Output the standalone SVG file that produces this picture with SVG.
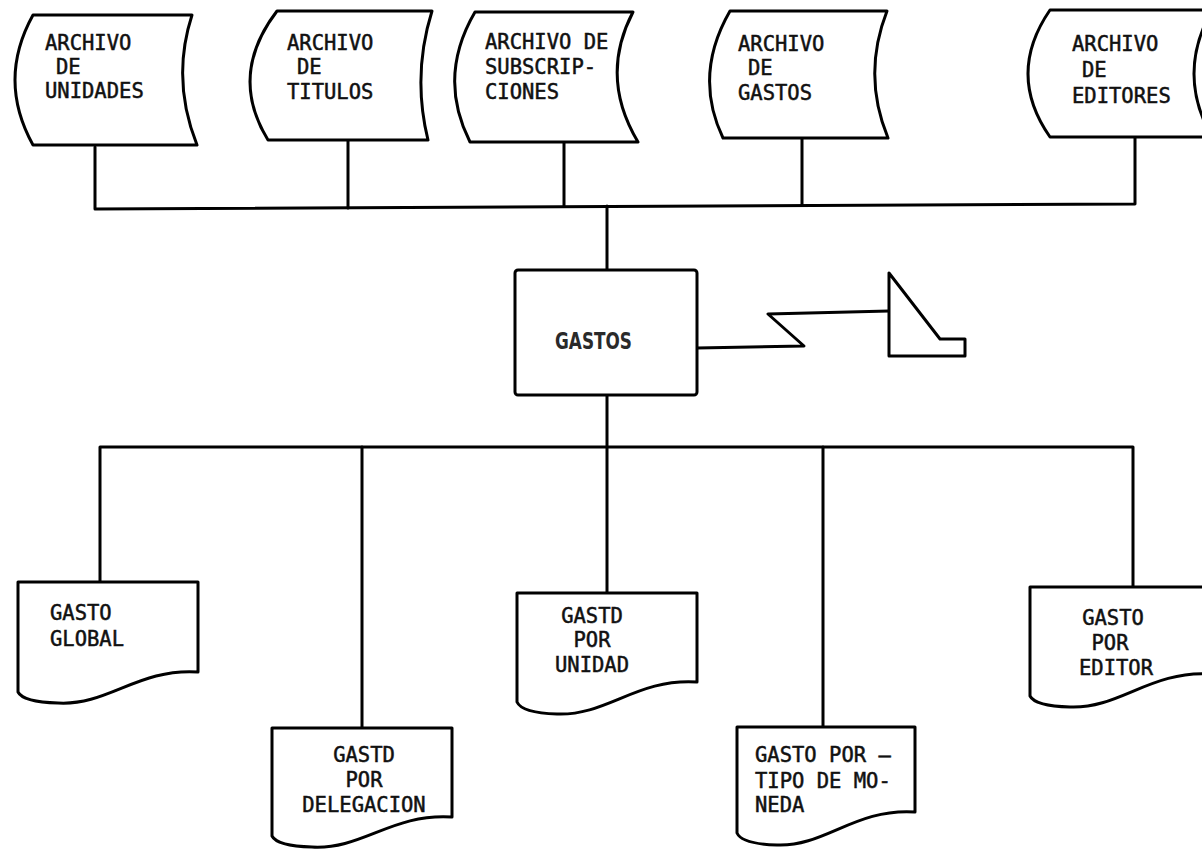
<svg xmlns="http://www.w3.org/2000/svg" width="1202" height="849" viewBox="0 0 1202 849">
<style>
.shape{fill:#fff;stroke:#000;stroke-width:3;stroke-linejoin:round}
.ln{fill:none;stroke:#000;stroke-width:3;stroke-linejoin:round;stroke-linecap:round}
.t{font-family:"DejaVu Sans Mono","Liberation Mono",monospace;font-size:20.5px;fill:#111;stroke:#111;stroke-width:0.5}
.tc{text-anchor:middle}
.tb{font-family:"DejaVu Sans","Liberation Sans",sans-serif;font-size:23px;font-weight:bold;fill:#2a2a2a}
</style>
<rect width="1202" height="849" fill="#fff"/>
<g id="connectors">
<polyline class="ln" points="95,147 95,209 1135,204 1135,137"/>
<line class="ln" x1="348" y1="140" x2="348" y2="208"/>
<line class="ln" x1="564" y1="142" x2="564" y2="206"/>
<line class="ln" x1="802" y1="138" x2="802" y2="205"/>
<line class="ln" x1="607" y1="206" x2="607" y2="270"/>
<line class="ln" x1="607" y1="395" x2="607" y2="593"/>
<polyline class="ln" points="100,582 100,447 1133,447 1133,587"/>
<line class="ln" x1="362" y1="447" x2="362" y2="728"/>
<line class="ln" x1="823" y1="447" x2="823" y2="727"/>
<polyline class="ln" points="697,348 804,346 768,314 889,311"/>
</g>
<g id="archivo-unidades">
<path class="shape" d="M33,15 L192,15 Q171,80 197,145 L33,145 Q-3,80 33,15 Z"/>
<text class="t" x="45" y="50">ARCHIVO</text>
<text class="t" x="56" y="74">DE</text>
<text class="t" x="45" y="98">UNIDADES</text>
</g>
<g id="archivo-titulos">
<path class="shape" d="M277,11 L432,11 Q412,75 428,140 L268,140 Q228,75 277,11 Z"/>
<text class="t" x="287" y="50">ARCHIVO</text>
<text class="t" x="297" y="74">DE</text>
<text class="t" x="287" y="99">TITULOS</text>
</g>
<g id="archivo-subscripciones">
<path class="shape" d="M475,12 L633,12 Q599,77 638,142 L470,142 Q437,77 475,12 Z"/>
<text class="t" x="485" y="49">ARCHIVO DE</text>
<text class="t" x="485" y="74">SUBSCRIP-</text>
<text class="t" x="485" y="99">CIONES</text>
</g>
<g id="archivo-gastos">
<path class="shape" d="M730,11 L887,11 Q862,75 888,138 L723,138 Q693,75 730,11 Z"/>
<text class="t" x="738" y="51">ARCHIVO</text>
<text class="t" x="748" y="75">DE</text>
<text class="t" x="738" y="100">GASTOS</text>
</g>
<g id="archivo-editores">
<path class="shape" d="M1050,10 L1212,10 Q1176,74 1212,137 L1050,137 Q1006,74 1050,10 Z"/>
<text class="t" x="1072" y="51">ARCHIVO</text>
<text class="t" x="1082" y="77">DE</text>
<text class="t" x="1072" y="103">EDITORES</text>
</g>
<g id="gastos">
<rect class="shape" x="515" y="270" width="182" height="125" rx="3"/>
<text class="tb" x="555" y="349" textLength="77" lengthAdjust="spacingAndGlyphs">GASTOS</text>
</g>
<g id="terminal">
<path class="shape" d="M889,273 L889,356 L965,356 L965,339 L940,339 Z"/>
</g>
<g id="gasto-global">
<path class="shape" d="M18,582 L198,582 L198,672 C138,668 108,706 58,703 Q23,702 18,692 Z"/>
<text class="t" x="50" y="620">GASTO</text>
<text class="t" x="50" y="646">GLOBAL</text>
</g>
<g id="gasto-delegacion">
<path class="shape" d="M272,728 L452,728 L452,817 C392,813 362,850 312,847 Q277,846 272,836 Z"/>
<text class="t tc" x="364" y="762">GASTD</text>
<text class="t tc" x="364" y="787">POR</text>
<text class="t tc" x="364" y="812">DELEGACION</text>
</g>
<g id="gasto-unidad">
<path class="shape" d="M517,593 L697,593 L697,682 C637,678 607,716 557,714 Q522,713 517,702 Z"/>
<text class="t tc" x="592" y="623">GASTD</text>
<text class="t tc" x="592" y="647">POR</text>
<text class="t tc" x="592" y="672">UNIDAD</text>
</g>
<g id="gasto-moneda">
<path class="shape" d="M737,727 L915,727 L915,812 C855,808 825,847 777,845 Q742,844 737,833 Z"/>
<text class="t" x="755" y="762">GASTO POR –</text>
<text class="t" x="755" y="788">TIPO DE MO-</text>
<text class="t" x="755" y="812">NEDA</text>
</g>
<g id="gasto-editor">
<path class="shape" d="M1030,587 L1212,587 L1212,674 C1150,670 1120,709 1070,707 Q1035,706 1030,696 Z"/>
<text class="t tc" x="1113" y="625">GASTO</text>
<text class="t tc" x="1110" y="650">POR</text>
<text class="t tc" x="1116" y="675">EDITOR</text>
</g>
</svg>
